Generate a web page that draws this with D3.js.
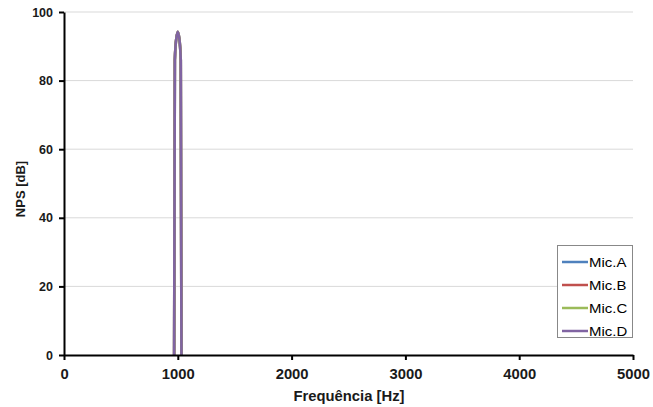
<!DOCTYPE html>
<html>
<head>
<meta charset="utf-8">
<script src="https://cdn.jsdelivr.net/npm/d3@7/dist/d3.min.js"></script>
<style>
  html, body { margin: 0; padding: 0; background: #fff; }
  svg { display: block; font-family: "Liberation Sans", Arial, sans-serif; }
</style>
</head>
<body>
<svg id="chart" width="653" height="407"></svg>
<script>
// Sound pressure level spectrum around the 1 kHz tone, one series per microphone
const seriesNames = ["Mic.A", "Mic.B", "Mic.C", "Mic.D"];
const seriesColors = ["#4F81BD", "#C0504D", "#9BBB59", "#8064A2"];
const frequencies = [948, 961, 974, 987, 1000, 1013, 1026, 1039, 1052];
const micA = [-160, -150, 86, 92.3, 94.2, 92.3, 86, -150, -160];
const micB = [-160, -150, 86, 92.3, 94.2, 92.3, 86, -150, -160];
const micC = [-160, -150, 86, 92.3, 94.2, 92.3, 86, -150, -160];
const micD = [-160, -150, 86, 92.3, 94.2, 92.3, 86, -150, -160];
const seriesValues = [micA, micB, micC, micD];
const xTicks = [0, 1000, 2000, 3000, 4000, 5000];
const yTicks = [0, 20, 40, 60, 80, 100];

const svg = d3.select("#chart");
const plotLeft = 64, plotRight = 633, plotTop = 12, plotBottom = 355;

const x = d3.scaleLinear().domain([0, 5000]).range([plotLeft, plotRight]);
const y = d3.scaleLinear().domain([0, 100]).range([plotBottom, plotTop]);

// horizontal gridlines
svg.append("g")
  .selectAll("line")
  .data(yTicks.filter(d => d > 0))
  .join("line")
  .attr("x1", plotLeft).attr("x2", plotRight)
  .attr("y1", d => y(d)).attr("y2", d => y(d))
  .attr("stroke", "#d9d9d9").attr("stroke-width", 1);

// clip the series to the plot area
svg.append("clipPath").attr("id", "plot-clip")
  .append("rect")
  .attr("x", plotLeft).attr("y", plotTop)
  .attr("width", plotRight - plotLeft).attr("height", plotBottom - plotTop);

const line = d3.line()
  .x(d => x(d[0]))
  .y(d => y(d[1]))
  .curve(d3.curveCatmullRom.alpha(0.5));

const plot = svg.append("g").attr("clip-path", "url(#plot-clip)");
seriesValues.forEach((vals, i) => {
  plot.append("path")
    .datum(frequencies.map((f, j) => [f, vals[j]]))
    .attr("d", line)
    .attr("fill", "none")
    .attr("stroke", seriesColors[i])
    .attr("stroke-width", 2.6);
});

// axes
const xAxis = svg.append("g")
  .attr("transform", `translate(0,${plotBottom})`)
  .call(d3.axisBottom(x).tickValues(xTicks).tickSize(5).tickSizeOuter(0).tickFormat(d3.format("d")));
const yAxis = svg.append("g")
  .attr("transform", `translate(${plotLeft},0)`)
  .call(d3.axisLeft(y).tickValues(yTicks).tickSize(5).tickSizeOuter(0).tickFormat(d3.format("d")));

[xAxis, yAxis].forEach(g => {
  g.select(".domain").attr("stroke", "#000").attr("stroke-width", 2);
  g.selectAll(".tick line").attr("stroke", "#000").attr("stroke-width", 2);
  g.selectAll(".tick text")
    .attr("fill", "#1a1a1a")
    .style("font-weight", "bold");
});
xAxis.selectAll(".tick text")
  .style("font-size", "14.8px")
  .attr("y", 24).attr("dy", 0);
yAxis.selectAll(".tick text")
  .style("font-size", "12.5px")
  .attr("x", -11);

// axis titles
svg.append("text")
  .attr("x", 349).attr("y", 401)
  .attr("text-anchor", "middle")
  .style("font-size", "14.8px").style("font-weight", "bold")
  .attr("fill", "#1a1a1a")
  .text("Frequência [Hz]");
svg.append("text")
  .attr("transform", `translate(24.5,189) rotate(-90)`)
  .attr("text-anchor", "middle")
  .style("font-size", "13px").style("font-weight", "bold")
  .attr("fill", "#1a1a1a")
  .text("NPS [dB]");

// legend
const lg = svg.append("g");
lg.append("rect")
  .attr("x", 557.5).attr("y", 245.5)
  .attr("width", 75).attr("height", 92)
  .attr("fill", "#fff").attr("stroke", "#888").attr("stroke-width", 1);
seriesNames.forEach((name, i) => {
  const cy = 262 + i * 23;
  lg.append("line")
    .attr("x1", 562).attr("x2", 588)
    .attr("y1", cy).attr("y2", cy)
    .attr("stroke", seriesColors[i]).attr("stroke-width", 2.5);
  lg.append("text")
    .attr("transform", `translate(589,${cy + 5}) scale(1.15,1)`)
    .style("font-size", "13px")
    .attr("fill", "#000")
    .text(name);
});
</script>
</body>
</html>
